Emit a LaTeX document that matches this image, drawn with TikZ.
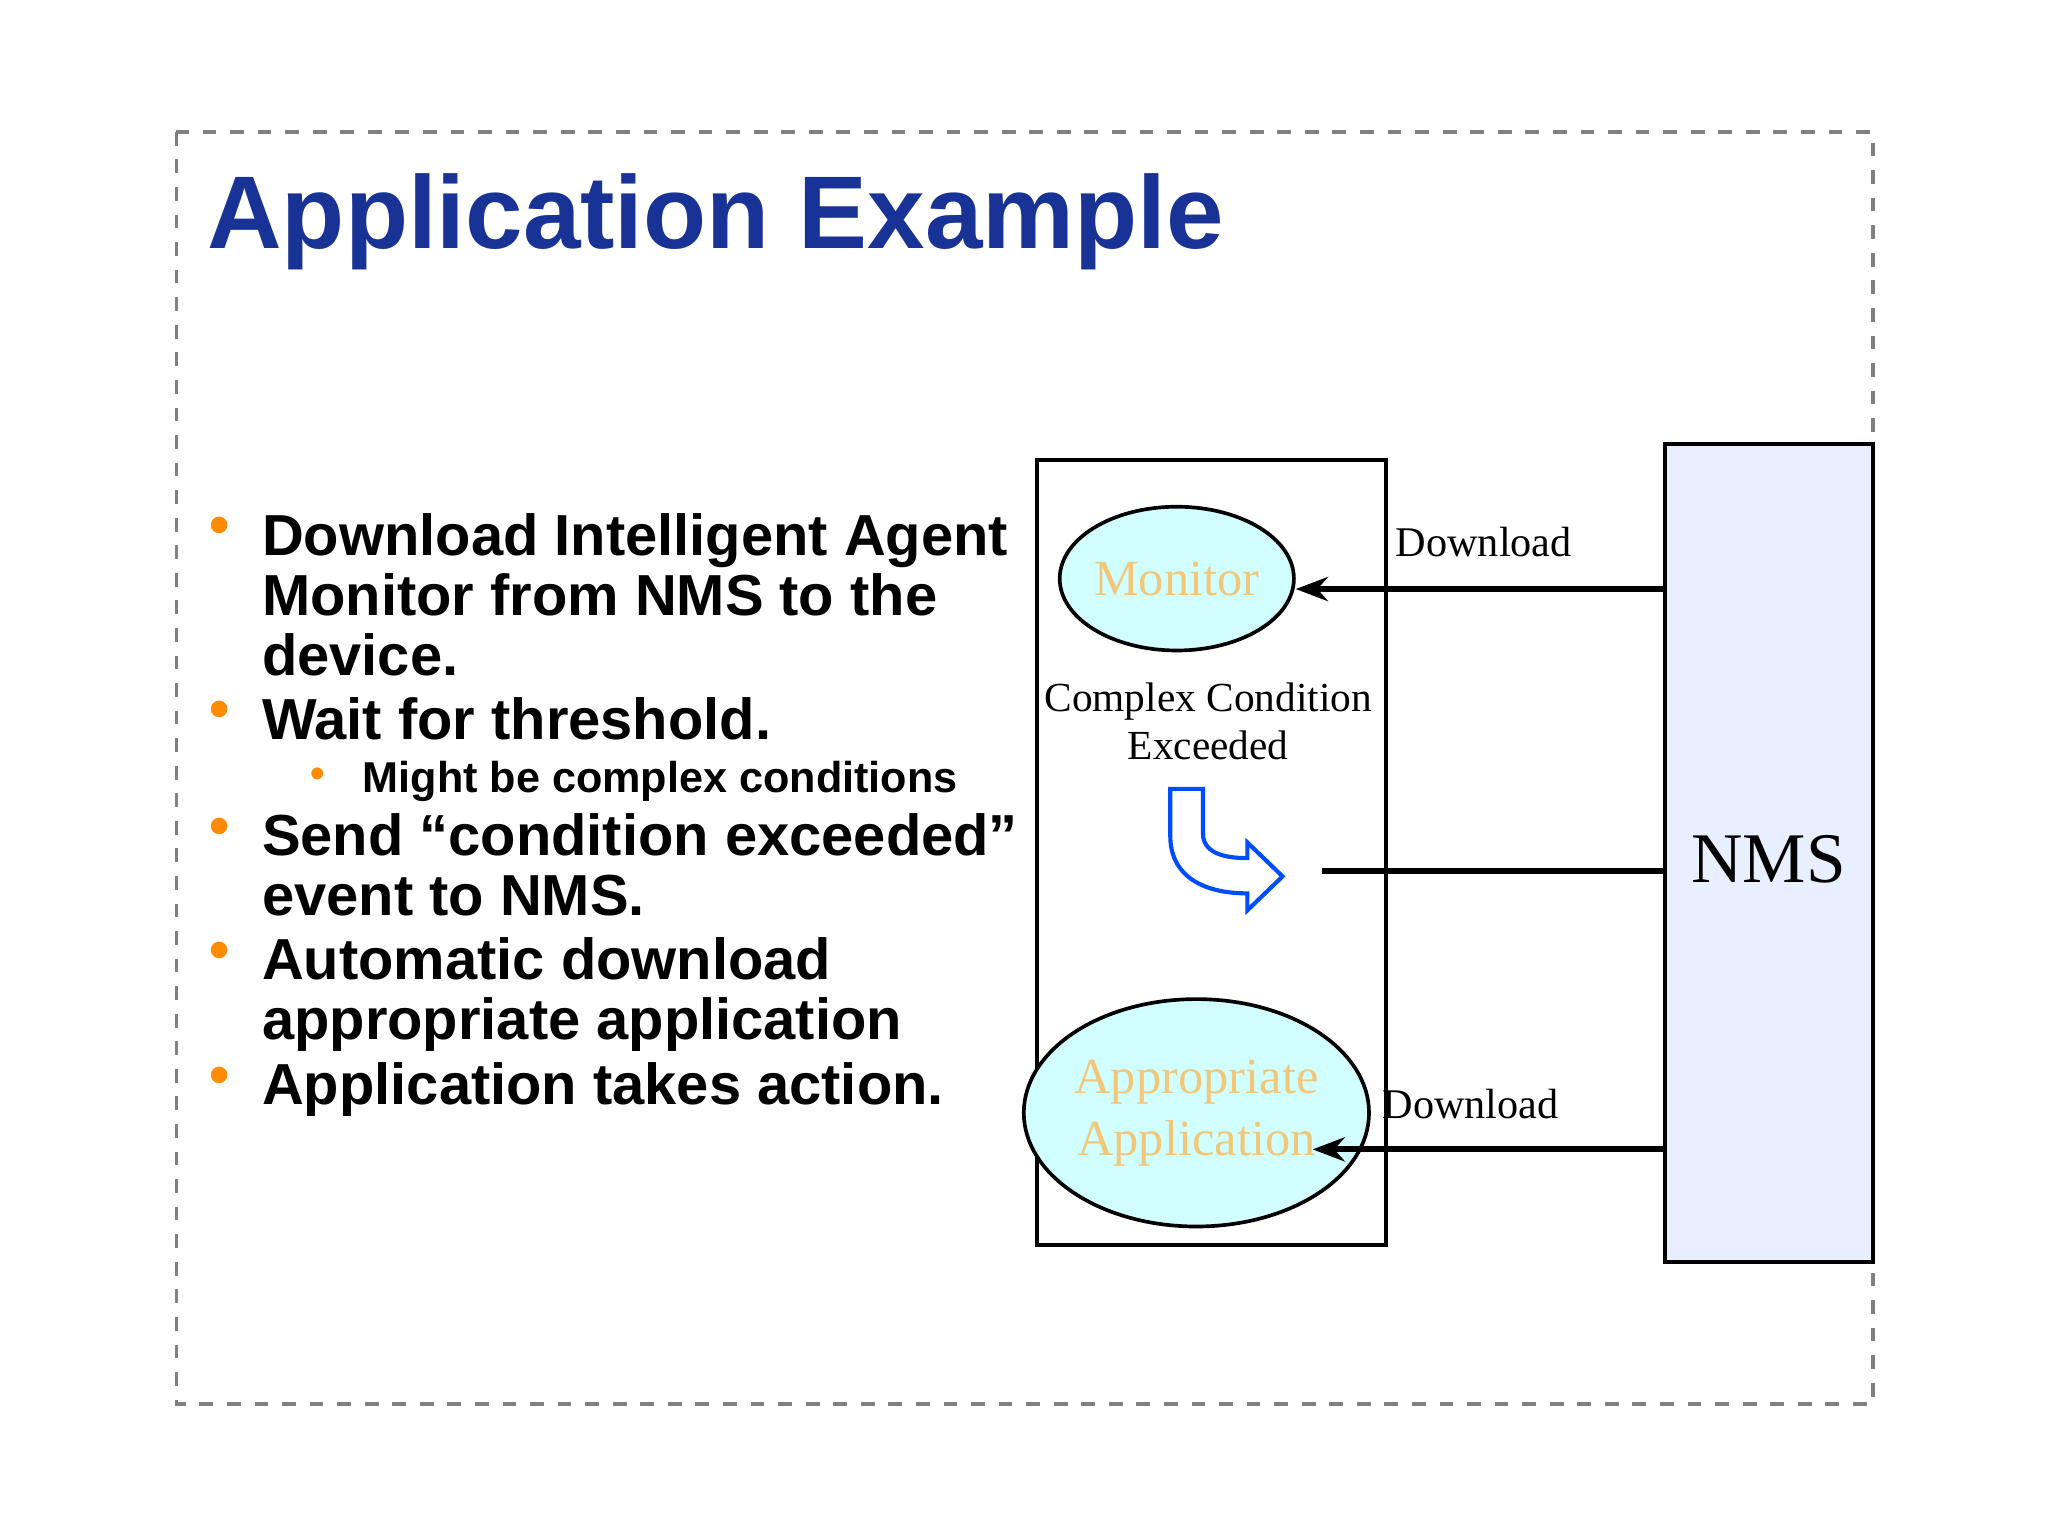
\documentclass[tikz,border=0pt]{standalone}
\usepackage{fontspec}
\usetikzlibrary{shapes.geometric,arrows.meta}
\setmainfont{Liberation Serif}
\newfontfamily\arialf{Liberation Sans}
\definecolor{ellfill}{rgb}{0.82,1,1}
\definecolor{elltext}{rgb}{0.95,0.78,0.48}
\begin{document}
\begin{tikzpicture}[x=0.01cm,y=-0.01cm,
  bul/.style={anchor=base west,font=\arialf\bfseries\fontsize{12.6}{15}\selectfont,inner sep=0},
  dot/.style={anchor=base west,text=orange!90!yellow,font=\arialf\bfseries\fontsize{12.6}{15}\selectfont,inner sep=0},
  ser/.style={font=\fontsize{9}{10.5}\selectfont},
  ell/.style={ellipse,draw,fill=ellfill,line width=0.8pt,text=elltext,inner sep=0},
  arr/.style={line width=1.3pt,-{Stealth[length=7pt]}}]
\useasboundingbox (0,0) rectangle (1568,1176);
\fill[white] (0,0) rectangle (1568,1176);
\draw[gray,dashed,line width=0.7pt] (135,101) rectangle (1434,1075);
\node[anchor=base west,inner sep=0,text={rgb,255:red,25;green,50;blue,150},font=\arialf\bfseries\fontsize{22.5}{26}\selectfont] (title) at (158,190) {Application Example};
\foreach \y in {425,566,655,750,846}{\node[dot] at (160,\y-8) {\textbullet};}
\node[bul] (b1) at (200,425) {Download Intelligent Agent};
\node[bul] (b1b) at (200,471) {Monitor from NMS to the};
\node[bul] (b1c) at (200,517) {device.};
\node[bul] (b2) at (200,566) {Wait for threshold.};
\node[dot,font=\arialf\bfseries\fontsize{9}{11}\selectfont] at (237,603) {\textbullet};
\node[bul,font=\arialf\bfseries\fontsize{9.4}{11}\selectfont] (b2a) at (277,607) {Might be complex conditions};
\node[bul] (b3) at (200,655) {Send “condition exceeded”};
\node[bul] (b3b) at (200,701) {event to NMS.};
\node[bul] (b4) at (200,750) {Automatic download};
\node[bul] (b4b) at (200,796) {appropriate application};
\node[bul] (b5) at (200,846) {Application takes action.};
\draw[line width=0.8pt] (794,352) rectangle (1061,953);
\draw[line width=0.8pt,fill={rgb,255:red,232;green,240;blue,255}] (1275,340) rectangle (1434,966);
\node[font=\fontsize{15.5}{18}\selectfont] (nms) at (1354,658) {NMS};
\node[ell,minimum width=1.5cm,minimum height=1.1cm,font=\fontsize{11}{13}\selectfont] (mon) at (901,443) {Monitor};
\node[ell,minimum width=2.06cm,minimum height=1.74cm,font=\fontsize{11}{13.5}\selectfont,align=center] (app) at (916,852) {Appropriate\\Application};
\node[ser,align=center] (cc) at (925,552) {Complex Condition\\Exceeded};
\draw[blue!70!cyan,line width=0.9pt] (896,604)--(921,604)--(921,638) .. controls (921,652) and (935,657) .. (955,657)--(955,645)--(982,671)--(955,697)--(955,684) .. controls (920,684) and (896,670) .. (896,640)--cycle;
\coordinate (ev) at (1012,667);
\draw[line width=1.3pt] (ev) -- (1275,667);
\coordinate (d1) at (1275,451);
\coordinate (d2) at (1275,880);
\draw[arr] (d1) -- (mon.east |- d1);
\draw[arr] (d2) -- (1005,880);
\node[ser,font=\fontsize{9.2}{11}\selectfont] (l1) at (1136,415) {Download};
\node[ser,font=\fontsize{9.2}{11}\selectfont] (l2) at (1126,845) {Download};
\end{tikzpicture}
\end{document}
